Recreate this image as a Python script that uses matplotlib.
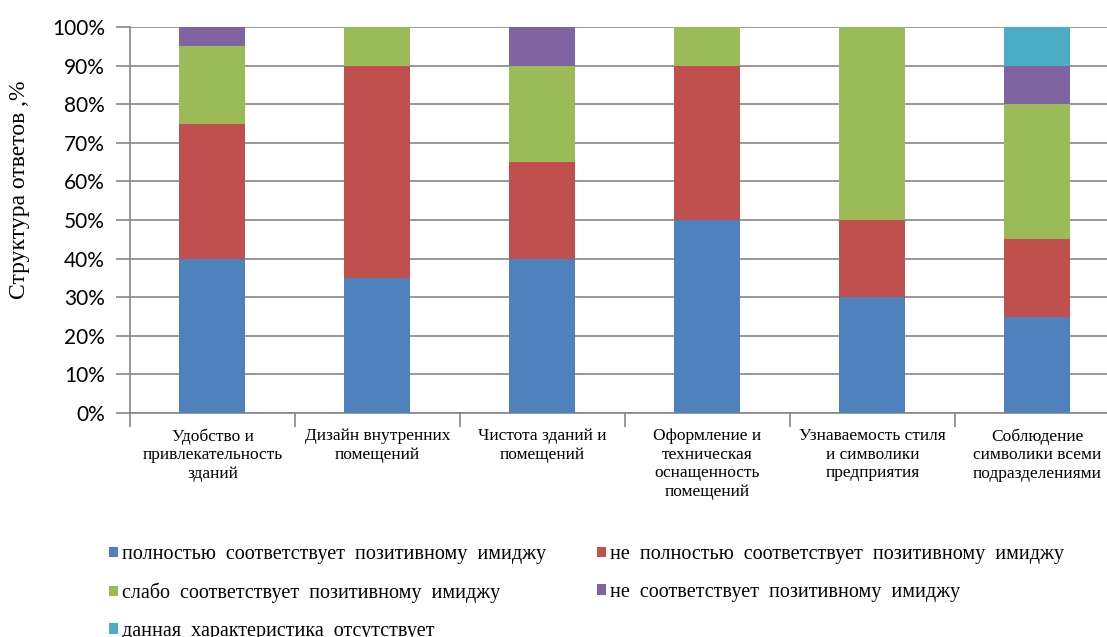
import matplotlib.pyplot as plt
import numpy as np

# Структура ответов по каждому критерию, %
categories = [
    "Удобство и\nпривлекательность\nзданий",
    "Дизайн внутренних\nпомещений",
    "Чистота зданий и\nпомещений",
    "Оформление и\nтехническая\nоснащенность\nпомещений",
    "Узнаваемость стиля\nи символики\nпредприятия",
    "Соблюдение\nсимволики всеми\nподразделениями",
]
full = [40, 35, 40, 50, 30, 25]
not_full = [35, 55, 25, 40, 20, 20]
weak = [20, 10, 25, 10, 50, 35]
none_ = [5, 0, 10, 0, 0, 10]
absent = [0, 0, 0, 0, 0, 10]

series = [full, not_full, weak, none_, absent]
labels = [
    "полностью  соответствует  позитивному  имиджу",
    "не  полностью  соответствует  позитивному  имиджу",
    "слабо  соответствует  позитивному  имиджу",
    "не  соответствует  позитивному  имиджу",
    "данная  характеристика  отсутствует",
]
colors = ["#4F81BD", "#C0504D", "#9BBB59", "#8064A2", "#4BACC6"]
yticks = [0, 10, 20, 30, 40, 50, 60, 70, 80, 90, 100]

fig = plt.figure(figsize=(11.07, 6.37), dpi=100)
ax = fig.add_axes([130 / 1107, 1 - 413 / 637, 990 / 1107, 386 / 637])

x = np.arange(len(categories))
bottom = np.zeros(len(categories))
handles = []
for vals, lab, col in zip(series, labels, colors):
    b = ax.bar(x, vals, width=0.4, bottom=bottom, color=col, label=lab, zorder=3)
    handles.append(b)
    bottom += np.array(vals)

ax.set_xlim(-0.5, len(categories) - 0.5)
ax.set_ylim(0, 100)
ax.set_yticks(yticks)
ax.set_yticklabels([f"{v}%" for v in yticks], fontfamily="Lato", fontsize=15)
ax.yaxis.grid(True, color="#868686", linewidth=1.2, zorder=0)
ax.tick_params(axis="y", length=10, width=1.2, color="#868686", pad=8)

# category boundaries as x ticks
ax.set_xticks(np.arange(-0.5, len(categories), 1.0))
ax.set_xticklabels([])
ax.tick_params(axis="x", length=10, width=1.2, color="#868686")
for i, c in enumerate(categories):
    ax.text(i, -4, c, ha="center", va="top", fontsize=12.5,
            fontfamily="Liberation Serif", linespacing=1.2)

for s in ["top", "right"]:
    ax.spines[s].set_visible(False)
for s in ["left", "bottom"]:
    ax.spines[s].set_color("#868686")
    ax.spines[s].set_linewidth(1.2)

fig.text(20 / 1107, 1 - 190 / 637, "Структура ответов ,%", rotation=90,
         ha="center", va="center", fontsize=17, fontfamily="Liberation Serif")

order = [0, 2, 4, 1, 3]
leg = fig.legend([handles[i] for i in order], [labels[i] for i in order],
                 loc="upper left", bbox_to_anchor=(95 / 1107, 1 - 531 / 637),
                 ncol=2, frameon=False, handlelength=0.45, handleheight=0.45,
                 handletextpad=0.2, labelspacing=0.92, columnspacing=2.5,
                 borderpad=0.2, prop={"family": "Liberation Serif", "size": 14.5})

fig.savefig("out.png", dpi=100)
